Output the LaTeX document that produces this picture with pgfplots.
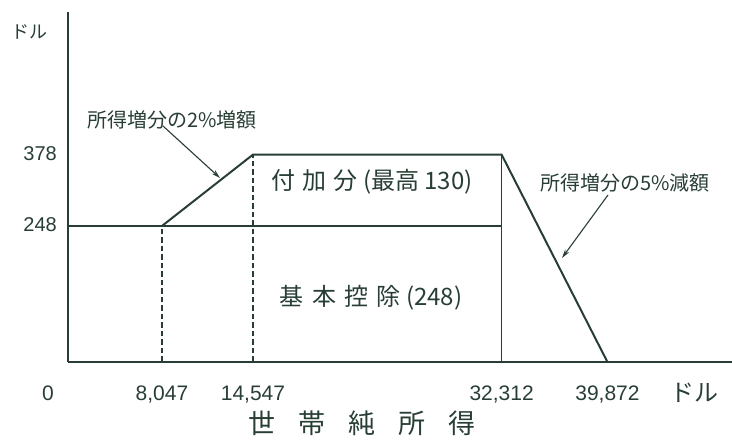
\documentclass[border=0pt]{standalone}
\usepackage{pgfplots}
\pgfplotsset{compat=1.18}
\usepackage{fontspec}
\setmainfont{Liberation Sans}
\newfontfamily\jp{Noto Sans CJK JP}
\usetikzlibrary{arrows.meta}
\definecolor{ink}{RGB}{40,62,52}

\begin{document}
\begin{tikzpicture}
\useasboundingbox (-68pt,-79pt) rectangle (664pt,362pt);
\begin{axis}[
  scale only axis, width=664pt, height=350pt,
  xmin=1332, xmax=48771, ymin=0, ymax=638,
  axis x line=bottom, axis y line=left,
  axis line style={-, ink, line width=1.4pt},
  xtick={8047,14547,32312,39872},
  xticklabels={{8,047},{14,547},{32,312},{39,872}},
  ytick={248,378}, yticklabels={248,378},
  major tick length=0pt,
  xticklabel style={font=\fontsize{21}{21}\selectfont, text=ink, anchor=base, yshift=-38.5pt},
  yticklabel style={font=\fontsize{20}{20}\selectfont, text=ink, anchor=base east, inner sep=0pt, xshift=-11pt, yshift=-6pt},
  clip=false,
  xlabel={\jp\fontsize{27}{27}\selectfont 世\hspace{23pt}帯\hspace{23pt}純\hspace{23pt}所\hspace{23pt}得},
  xlabel style={at={(axis description cs:0.443,-0.176)}, anchor=center, text=ink, inner sep=0pt},
  ylabel={\jp\fontsize{18}{18}\selectfont ドル},
  ylabel style={at={(axis description cs:-0.0587,0.943)}, anchor=center, rotate=-90, text=ink, inner sep=0pt},
]
\addplot[ink, line width=2pt] coordinates {(1332,248) (32312,248)};
\addplot[ink, line width=2pt, line join=miter] coordinates {(8047,248) (14547,378) (32312,378) (39872,0)};
\addplot[ink, line width=1.6pt] coordinates {(32312,0) (32312,378)};
\addplot[ink, line width=1.4pt, dash pattern=on 5.5pt off 3pt] coordinates {(8047,0) (8047,248)};
\addplot[ink, line width=1.4pt, dash pattern=on 5.5pt off 3pt] coordinates {(14547,0) (14547,378)};
\end{axis}
% annotations (canvas: 1pt = 1px, origin at axis lower-left)
\node[text=ink, anchor=base, inner sep=0pt, font=\fontsize{21}{21}\selectfont] at (-20pt,-38.5pt) {0};
\node[text=ink, anchor=center, inner sep=0pt] at (626pt,-31pt) {\jp\fontsize{24}{24}\selectfont ドル};
\node[text=ink, anchor=center, inner sep=0pt] at (104pt,242pt) {\jp\fontsize{20}{20}\selectfont 所得増分の2\%増額};
\node[text=ink, anchor=center, inner sep=0pt] at (557pt,179pt) {\jp\fontsize{20}{20}\selectfont 所得増分の5\%減額};
\node[text=ink, anchor=center, inner sep=0pt] at (304pt,180pt) {\jp\fontsize{24}{24}\selectfont 付\hspace{0.3em}加\hspace{0.3em}分 (最高 130)};
\node[text=ink, anchor=center, inner sep=0pt] at (303pt,64pt) {\jp\fontsize{24}{24}\selectfont 基\hspace{0.35em}本\hspace{0.35em}控\hspace{0.35em}除 (248)};
\draw[ink, line width=1.1pt, -{Stealth[length=9pt,width=5pt]}] (95pt,236pt) -- (152pt,184pt);
\draw[ink, line width=1.1pt, -{Stealth[length=9pt,width=5pt]}] (540pt,167pt) -- (494pt,104pt);
\end{tikzpicture}
\end{document}
